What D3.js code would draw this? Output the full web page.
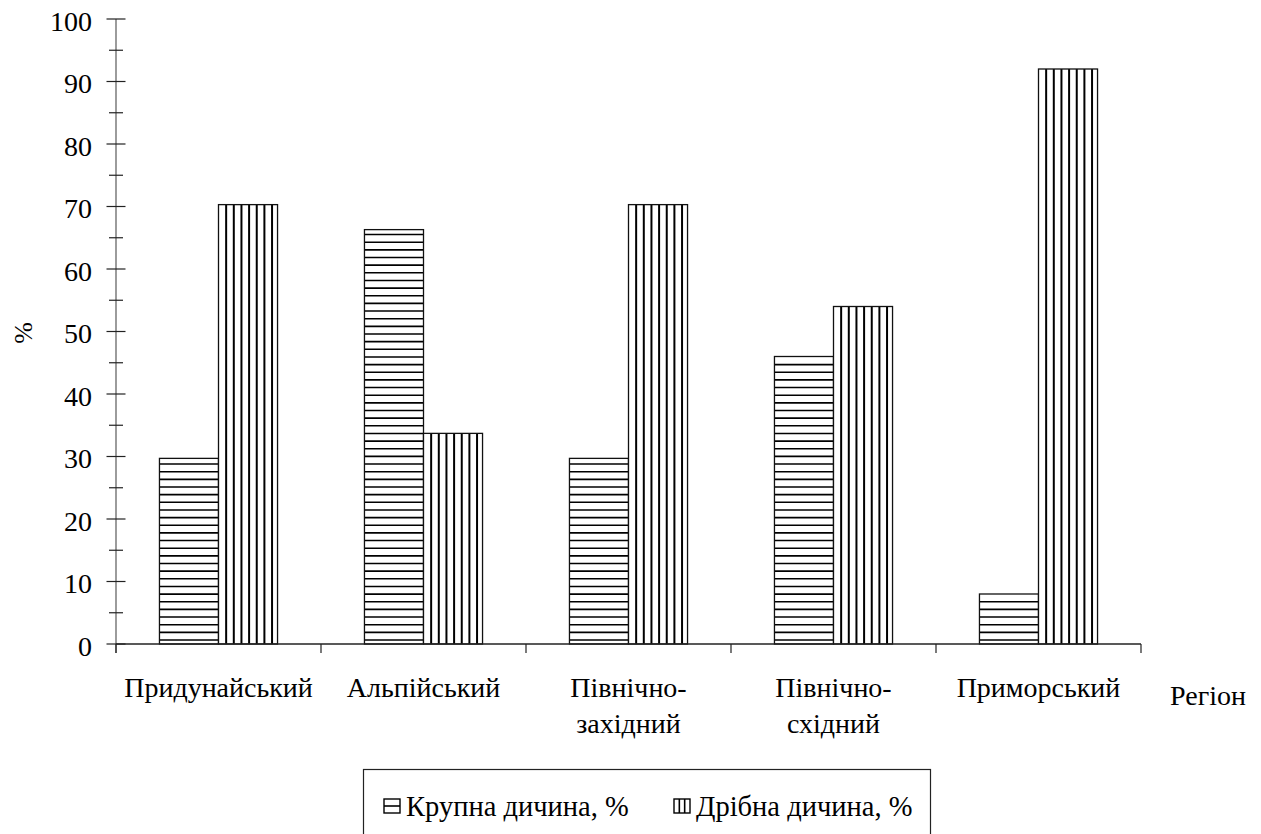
<!DOCTYPE html>
<html><head><meta charset="utf-8">
<script src="https://cdn.jsdelivr.net/npm/d3@7"></script>
<style>html,body{margin:0;padding:0;background:#fff;}svg{display:block;} svg text{font-family:"Liberation Serif","Times New Roman",serif !important;font-size:28px !important;} svg text.pct{font-size:26px !important;} svg text.leg{font-size:28.5px !important;}</style>
</head><body>
<svg id="c" width="1261" height="834"></svg>
<script>
const categories = [["Придунайський"],["Альпійський"],["Північно-","західний"],["Північно-","східний"],["Приморський"]];
const seriesNames = ["Крупна дичина, %","Дрібна дичина, %"];
const krupna = [29.7, 66.3, 29.7, 46.0, 8.0];
const dribna = [70.3, 33.7, 70.3, 54.0, 92.0];
const yTicks = [0,10,20,30,40,50,60,70,80,90,100];

const svg = d3.select("#c");
function txt(sel){ return sel.append("text").attr("fill","#000"); }

const L = 116, R = 1141, T = 19, B = 644;
const y = d3.scaleLinear().domain([0,100]).range([B,T]);
const keys = categories.map((c,i)=>i);
const x0 = d3.scaleBand().domain(keys).range([L,R]).padding(0);
const gw = x0.bandwidth()*0.576;
const x1 = d3.scaleBand().domain([0,1]).range([(x0.bandwidth()-gw)/2,(x0.bandwidth()+gw)/2]).padding(0);
const data = [krupna, dribna];
const bw = x1.bandwidth();
const sp = 7.65;

function hatch(sel, si, bx, by, w, h, base, sw){
  if(si===0){
    d3.range(0,200).map(k=>base-k*sp).filter(yy=>yy>by+2 && yy<=by+h).forEach(yy=>{
      sel.append("line").attr("x1",bx).attr("x2",bx+w).attr("y1",yy).attr("y2",yy).attr("stroke","#000").attr("stroke-width",sw||1.6);
    });
  } else {
    d3.range(1,200).map(k=>bx+k*sp).filter(xx=>xx<bx+w-1.5).forEach(xx=>{
      sel.append("line").attr("x1",xx).attr("x2",xx).attr("y1",by).attr("y2",by+h).attr("stroke","#000").attr("stroke-width",sw||2);
    });
  }
}

const g = svg.append("g");
keys.forEach(i=>{
  data.forEach((s,si)=>{
    const bx = x0(i)+x1(si), by = y(s[i]), bh = B - by;
    g.append("rect").attr("x",bx).attr("y",by).attr("width",bw).attr("height",bh).attr("fill","#fff");
    hatch(g, si, bx, by, bw, bh, B-4);
    g.append("rect").attr("x",bx).attr("y",by).attr("width",bw).attr("height",bh).attr("fill","none").attr("stroke","#111").attr("stroke-width",1.3);
  });
});

const ya = svg.append("g");
ya.append("line").attr("x1",L).attr("x2",L).attr("y1",T).attr("y2",B+9).attr("stroke","#666").attr("stroke-width",1.3);
d3.range(0,101,5).forEach(v=>{
  const major = v%10===0;
  ya.append("line").attr("x1",major?L-9.5:L-7).attr("x2",major?L+9.5:L+7).attr("y1",y(v)).attr("y2",y(v)).attr("stroke","#222").attr("stroke-width",1.2);
});
yTicks.forEach(v=>{
  txt(ya).attr("x",92).attr("y",y(v)+11.5).attr("text-anchor","end").text(v);
});
txt(svg).attr("class","pct").attr("transform","translate(32,333) rotate(-90)").attr("text-anchor","middle").text("%");

const xa = svg.append("g");
xa.append("line").attr("x1",L).attr("x2",R).attr("y1",B).attr("y2",B).attr("stroke","#222").attr("stroke-width",1.3);
x0.domain().concat(["end"]).forEach((k,j)=>{
  const xx = L + j*x0.bandwidth();
  xa.append("line").attr("x1",xx).attr("x2",xx).attr("y1",B).attr("y2",B+9).attr("stroke","#222").attr("stroke-width",1.2);
});
categories.forEach((lines,i)=>{
  lines.forEach((ln,li)=>txt(xa).attr("x",x0(i)+x0.bandwidth()/2).attr("y",697+li*36).attr("text-anchor","middle").text(ln));
});
txt(svg).attr("x",1208).attr("y",705).attr("text-anchor","middle").text("Регіон");

const lg = svg.append("g");
lg.append("rect").attr("x",363.5).attr("y",769.5).attr("width",567).attr("height",70).attr("fill","#fff").attr("stroke","#222").attr("stroke-width",1.2);
const items = [{x:384, tx:406},{x:674, tx:696}];
items.forEach((it,si)=>{
  const sy = 799, w = 16, h = 14;
  lg.append("rect").attr("x",it.x).attr("y",sy).attr("width",w).attr("height",h).attr("fill","#fff");
  if(si===0) lg.append("line").attr("x1",it.x).attr("x2",it.x+w).attr("y1",sy+h/2).attr("y2",sy+h/2).attr("stroke","#000").attr("stroke-width",1.6);
  else [1,2].forEach(k=>lg.append("line").attr("x1",it.x+k*w/3).attr("x2",it.x+k*w/3).attr("y1",sy).attr("y2",sy+h).attr("stroke","#000").attr("stroke-width",1.6));
  lg.append("rect").attr("x",it.x).attr("y",sy).attr("width",w).attr("height",h).attr("fill","none").attr("stroke","#000").attr("stroke-width",1.4);
  txt(lg).attr("class","leg").attr("x",it.tx).attr("y",816).text(seriesNames[si]);
});
</script>
</body></html>
